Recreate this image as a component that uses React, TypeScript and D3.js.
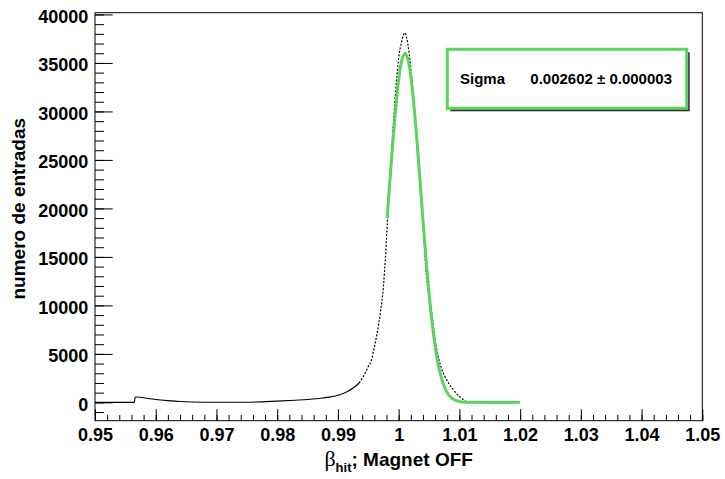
import React, { useEffect, useRef } from 'react';
import * as d3 from 'd3';

// histogram of beta_hit (bin position, entries)
const betaHit = [0.95, 0.9565, 0.9566, 0.957, 0.958, 0.959, 0.96, 0.962, 0.964, 0.966, 0.97, 0.975, 0.98, 0.983, 0.985,
    0.9875, 0.99, 0.9915, 0.9925, 0.9935, 0.9942, 0.995, 0.9955, 0.996, 0.9965, 0.997, 0.9975, 0.9978, 0.9981, 0.9985,
    0.999, 0.9995, 1.0, 1.0005, 1.001, 1.0015, 1.002, 1.0025, 1.003, 1.0035, 1.0038, 1.0042, 1.0046, 1.005, 1.0054,
    1.006, 1.0065, 1.007, 1.0076, 1.0083, 1.009, 1.01, 1.0107, 1.0112, 1.012, 1.02];
const entries = [0, 0, 520, 560, 480, 380, 300, 180, 90, 40, 10, 20, 130, 220, 290,
    450, 740, 1100, 1480, 2000, 2680, 3700, 4300, 5700, 7300, 9300, 12000, 14700, 18000, 22500,
    27500, 32000, 35500, 37200, 38100, 37000, 34500, 31000, 27000, 23500, 20900, 16500, 12800, 11000, 9500,
    6500, 4800, 3600, 2700, 1900, 1300, 600, 250, 60, 0, 0];

// gaussian fit curve
const fitBeta = [0.9981, 0.9985, 0.999, 0.9995, 1.0, 1.0005, 1.00104, 1.0015, 1.002, 1.0025, 1.003, 1.0035, 1.004,
    1.0045, 1.005, 1.0055, 1.006, 1.0065, 1.007, 1.0075, 1.008, 1.0085, 1.009, 1.0095, 1.01, 1.011, 1.012, 1.02];
const fitValue = [19000, 22350, 26460, 30200, 33230, 35230, 36000, 35440, 33630, 30760, 27100, 23010, 18830,
    14850, 11290, 8270, 5830, 3970, 2600, 1640, 1000, 590, 330, 180, 95, 20, 0, 0];

const xMajorTicks = [0.95, 0.96, 0.97, 0.98, 0.99, 1.0, 1.01, 1.02, 1.03, 1.04, 1.05];
const yMajorTicks = [0, 5000, 10000, 15000, 20000, 25000, 30000, 35000, 40000];
const statsLabel = 'Sigma';
const statsValue = '0.002602 \u00b1 0.000003';

const green = '#5cd35c';
const font = '"Liberation Sans", Arial, sans-serif';

export default function App() {
    const ref = useRef<SVGSVGElement>(null);

    useEffect(() => {
        const width = 725, height = 479;
        const frame = { left: 95, right: 702.3, top: 12.7, bottom: 420.7 };

        const x = d3.scaleLinear().domain([0.95, 1.05]).range([frame.left, frame.right]);
        const y = d3.scaleLinear().domain([-1890, 40180]).range([frame.bottom, frame.top]);

        const svg = d3.select(ref.current);
        svg.selectAll('*').remove();
        svg.attr('width', width).attr('height', height);

        svg.append('rect').attr('width', width).attr('height', height).attr('fill', '#fff');

        // minor ticks
        const xMinor = d3.range(0, 51).map(i => 0.95 + i * 0.002).filter(v => v <= 1.0501);
        const yMinor = d3.range(-1000, 40001, 1000);

        const xAxisMinor = svg.append('g').attr('transform', `translate(0,${frame.bottom})`)
            .call(d3.axisBottom(x).tickValues(xMinor).tickSize(-5.8).tickFormat(() => ''));
        const xAxis = svg.append('g').attr('transform', `translate(0,${frame.bottom})`)
            .call(d3.axisBottom(x).tickValues(xMajorTicks).tickSize(-11.5)
                .tickFormat(d => String(+(+d).toFixed(2))));
        const yAxisMinor = svg.append('g').attr('transform', `translate(${frame.left},0)`)
            .call(d3.axisLeft(y).tickValues(yMinor).tickSize(-9).tickFormat(() => ''));
        const yAxis = svg.append('g').attr('transform', `translate(${frame.left},0)`)
            .call(d3.axisLeft(y).tickValues(yMajorTicks).tickSize(-17.7).tickFormat(d => String(d)));

        [xAxisMinor, xAxis, yAxisMinor, yAxis].forEach(g => {
            g.select('.domain').remove();
            g.selectAll('line').attr('stroke', '#000').attr('stroke-width', 1);
        });

        xAxis.selectAll('text')
            .attr('y', 20.3).attr('dy', null)
            .attr('font-family', font).attr('font-weight', 'bold').attr('font-size', 18)
            .attr('fill', '#000');
        yAxis.selectAll('text')
            .attr('x', -6.7).attr('dy', 8)
            .attr('font-family', font).attr('font-weight', 'bold').attr('font-size', 18)
            .attr('fill', '#000');

        // frame
        svg.append('rect')
            .attr('x', frame.left).attr('y', frame.top)
            .attr('width', frame.right - frame.left).attr('height', frame.bottom - frame.top)
            .attr('fill', 'none').attr('stroke', '#000').attr('stroke-width', 1);

        const histo = betaHit.map((b, i) => [b, entries[i]] as [number, number]);
        const line = d3.line<[number, number]>().x(d => x(d[0])).y(d => y(d[1])).curve(d3.curveMonotoneX);

        // flat parts solid, steep peak dotted like the bin markers
        svg.append('path')
            .attr('d', line(histo.filter(d => d[0] <= 0.9935)))
            .attr('fill', 'none').attr('stroke', '#000').attr('stroke-width', 1.1);
        svg.append('path')
            .attr('d', line(histo.filter(d => d[0] >= 0.9935)))
            .attr('fill', 'none').attr('stroke', '#000').attr('stroke-width', 1.2)
            .attr('stroke-dasharray', '2 1.6');

        const fit = fitBeta.map((b, i) => [b, fitValue[i]] as [number, number]);
        svg.append('path')
            .attr('d', line.curve(d3.curveCatmullRom)(fit))
            .attr('fill', 'none').attr('stroke', green).attr('stroke-width', 3);

        // stats box
        const box = { x: 447.3, y: 49.3, w: 239.4, h: 59 };
        svg.append('rect')
            .attr('x', box.x + 3).attr('y', box.y + 3).attr('width', box.w).attr('height', box.h)
            .attr('fill', '#333');
        svg.append('rect')
            .attr('x', box.x).attr('y', box.y).attr('width', box.w).attr('height', box.h)
            .attr('fill', '#fff').attr('stroke', green).attr('stroke-width', 3);
        svg.append('text')
            .attr('x', 460).attr('y', 84)
            .attr('font-family', font).attr('font-weight', 'bold').attr('font-size', 15)
            .text(statsLabel);
        svg.append('text')
            .attr('x', 672).attr('y', 84).attr('text-anchor', 'end')
            .attr('font-family', font).attr('font-weight', 'bold').attr('font-size', 15)
            .text(statsValue);

        // axis titles
        const xt = svg.append('text')
            .attr('x', (frame.left + frame.right) / 2).attr('y', 466).attr('text-anchor', 'middle')
            .attr('font-family', font).attr('font-weight', 'bold').attr('font-size', 19);
        xt.append('tspan').attr('font-family', '"Liberation Serif", serif').attr('font-weight', 'normal')
            .attr('font-size', 22).text('\u03b2');
        xt.append('tspan').attr('font-size', 13).attr('dy', 6).text('hit');
        xt.append('tspan').attr('dy', -6).text('; Magnet OFF');

        svg.append('text')
            .attr('transform', `translate(25,${(frame.top + frame.bottom) / 2 - 8}) rotate(-90)`)
            .attr('text-anchor', 'middle')
            .attr('font-family', font).attr('font-weight', 'bold').attr('font-size', 19)
            .text('numero de entradas');
    }, []);

    return (
        <svg ref={ref} style={{ position: 'absolute', left: 0, top: 0, display: 'block' }} />
    );
}
